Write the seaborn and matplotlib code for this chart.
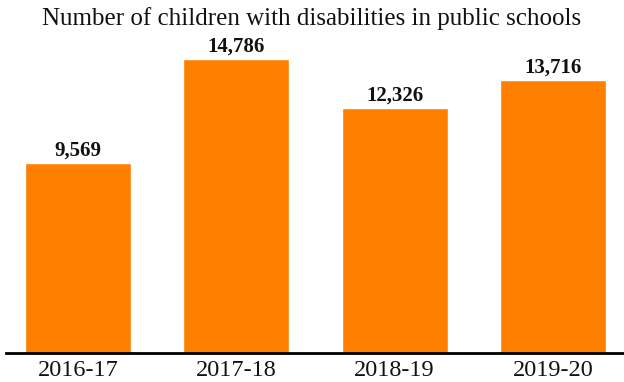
import matplotlib
matplotlib.use("Agg")
import matplotlib.pyplot as plt
import seaborn as sns
import pandas as pd

years = ["2016-17", "2017-18", "2018-19", "2019-20"]
counts = [9569, 14786, 12326, 13716]
title = "Number of children with disabilities in public schools"

sns.set_theme(style="white")
plt.rcParams["font.family"] = ["Liberation Serif", "DejaVu Serif"]

df = pd.DataFrame({"year": years, "count": counts})

fig = plt.figure(figsize=(6.24, 3.82), dpi=100)
ax = fig.add_axes([6 / 624, 29 / 382, 618 / 624, 323 / 382])
sns.barplot(data=df, x="year", y="count", color="#FF8000", saturation=1,
            width=0.67, ax=ax)
ax.set_xlim(-0.455, 3.45)
ax.set_ylim(0, 16250)
for i, v in enumerate(counts):
    ax.text(i, v + 120, f"{v:,}", ha="center", va="bottom",
            fontsize=15, fontweight="bold", color="#111111")
for s in ["top", "right", "left"]:
    ax.spines[s].set_visible(False)
ax.spines["bottom"].set_color("black")
ax.spines["bottom"].set_linewidth(2)
ax.set_yticks([])
ax.set_xlabel("")
ax.set_ylabel("")
ax.tick_params(axis="x", labelsize=17.5, length=0, pad=5, colors="#111111")
fig.text(0.5, 0.952, title, ha="center", va="center", fontsize=18, color="#111111")
fig.savefig("out.png", dpi=100)
